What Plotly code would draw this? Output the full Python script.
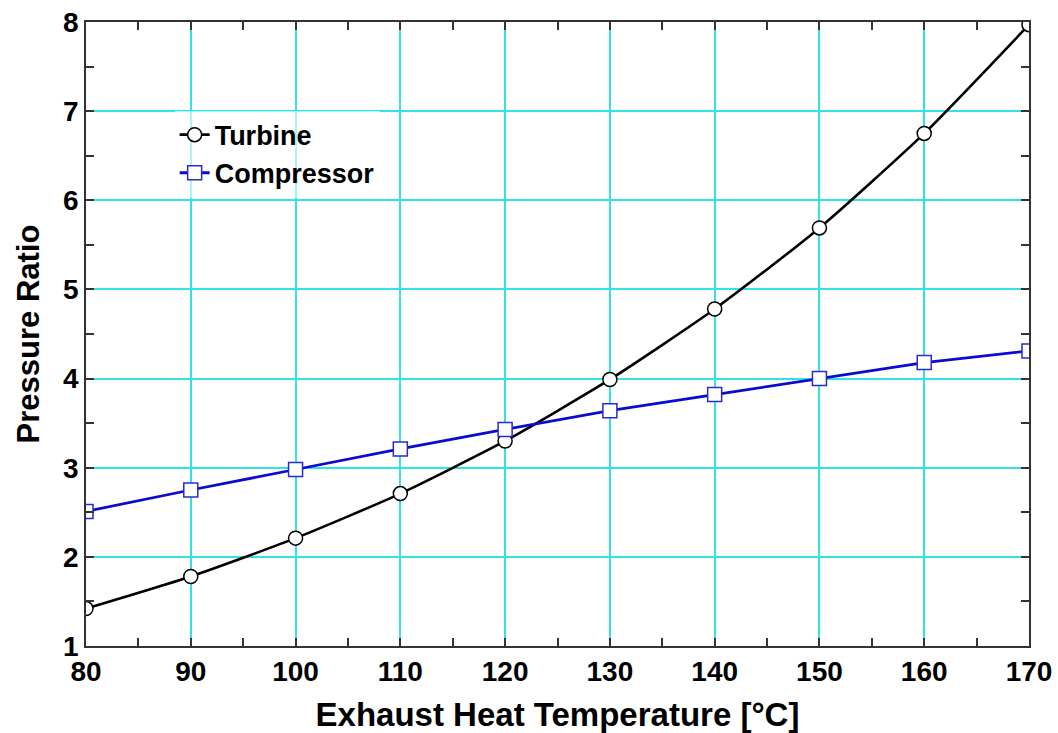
import plotly.graph_objects as go

# Exhaust heat temperature [°C]
temperature = [80, 90, 100, 110, 120, 130, 140, 150, 160, 170]
# Pressure ratios for each machine
turbine_ratio = [1.42, 1.78, 2.21, 2.71, 3.30, 3.99, 4.78, 5.69, 6.75, 7.97]
compressor_ratio = [2.51, 2.75, 2.98, 3.21, 3.43, 3.64, 3.82, 4.00, 4.18, 4.31]

x_ticks = [80, 90, 100, 110, 120, 130, 140, 150, 160, 170]
y_ticks = [1, 2, 3, 4, 5, 6, 7, 8]

FONT = "Liberation Sans, Arial, sans-serif"
GRID = "#2fe3e6"
FRAME = "#333333"

fig = go.Figure()
fig.add_trace(go.Scatter(
    x=temperature, y=turbine_ratio, name="Turbine",
    mode="lines+markers",
    line=dict(color="black", width=2.6, shape="spline", smoothing=0.6),
    marker=dict(symbol="circle", size=14, color="white",
                line=dict(color="black", width=1.5)),
))
fig.add_trace(go.Scatter(
    x=temperature, y=compressor_ratio, name="Compressor",
    mode="lines+markers",
    line=dict(color="#0a0ad0", width=2.8),
    marker=dict(symbol="square", size=14, color="white",
                line=dict(color="#2a2acc", width=1.5)),
))

axis_common = dict(
    showline=True, linecolor=FRAME, linewidth=1.5, mirror="ticks",
    showgrid=True, gridcolor=GRID, gridwidth=1.5,
    ticks="inside", ticklen=8, tickcolor=FRAME, tickwidth=1.5,
    zeroline=False, automargin=False,
    tickfont=dict(family=FONT, size=28, color="black", weight="bold"),
)

fig.update_xaxes(
    range=[80, 170], tickvals=x_ticks,
    minor=dict(dtick=5, ticks="inside", ticklen=8, tickcolor=FRAME, showgrid=False),
    title=dict(text="Exhaust Heat Temperature [°C]", standoff=20,
               font=dict(family=FONT, size=33, color="black", weight="bold")),
    **axis_common,
)
fig.update_yaxes(
    range=[1, 8], tickvals=y_ticks,
    minor=dict(dtick=0.5, ticks="inside", ticklen=8, tickcolor=FRAME, showgrid=False),
    title=dict(text="Pressure Ratio", standoff=14,
               font=dict(family=FONT, size=31, color="black", weight="bold")),
    **axis_common,
)

fig.update_layout(
    width=1058, height=733,
    margin=dict(l=86, r=29, t=22, b=87),
    paper_bgcolor="white", plot_bgcolor="white",
    showlegend=True,
    legend=dict(
        x=0.094, y=0.858, xanchor="left", yanchor="top",
        bgcolor="rgba(255,255,255,0.6)", borderwidth=0,
        font=dict(family=FONT, size=27, color="black", weight="bold"),
        tracegroupgap=0, itemwidth=30,
    ),
)

fig.write_html("out.html")
